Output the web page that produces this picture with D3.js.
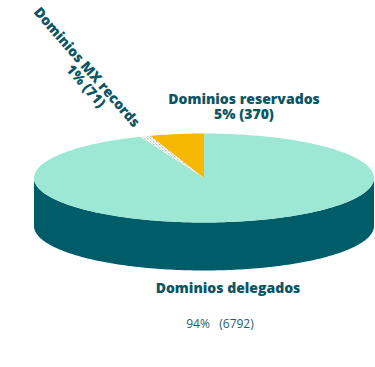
<!DOCTYPE html>
<html><head><meta charset="utf-8">
<script src="https://cdn.jsdelivr.net/npm/d3@7"></script>
<style>body{margin:0;background:#fff}svg{display:block}</style>
</head><body><svg id="c" width="375" height="367"></svg>
<script>
const categories = ["Dominios delegados", "Dominios MX records", "Dominios reservados"];
const values = [6792, 71, 370];
const percentLabels = ["94%", "1%", "5%"];
const topColors = ["#9de8d4", "url(#dots)", "#f6b800"];
const sideColors = ["#005c69", "#c8d0d0", "#c99600"];

const W = 375, H = 367;
const cx = 204, cy = 178, rx = 170, ry = 44.5, depth = 48;
const svg = d3.select("#c");
const defs = svg.append("defs");
const pat = defs.append("pattern").attr("id","dots").attr("width",3).attr("height",3).attr("patternUnits","userSpaceOnUse");
pat.append("rect").attr("width",3).attr("height",3).attr("fill","#ffffff");
pat.append("rect").attr("width",1.5).attr("height",1.5).attr("fill","#b8c4c6");
pat.append("rect").attr("x",1.5).attr("y",1.5).attr("width",1.5).attr("height",1.5).attr("fill","#d8e0e0");

const pie = d3.pie().sort(null).value(d => d)(values);
const px = a => cx + rx * Math.sin(a);
const py = (a, dy=0) => cy - ry * Math.cos(a) + dy;

function arcPts(a0, a1, dy) {
  const n = Math.max(2, Math.ceil(Math.abs(a1 - a0) / 0.02));
  return d3.range(n + 1).map(i => { const a = a0 + (a1 - a0) * i / n; return [px(a), py(a, dy)]; });
}
const line = d3.line();

pie.forEach((s, i) => {
  const a0 = Math.max(s.startAngle, Math.PI/2), a1 = Math.min(s.endAngle, 3*Math.PI/2);
  if (a1 <= a0) return;
  const pts = arcPts(a0, a1, 0).concat(arcPts(a1, a0, depth));
  svg.append("path").attr("d", line(pts) + "Z").attr("fill", sideColors[i]);
});
pie.forEach((s, i) => {
  const pts = [[cx, cy]].concat(arcPts(s.startAngle, s.endAngle, 0));
  svg.append("path").attr("d", line(pts) + "Z").attr("fill", topColors[i]);
});

const tc = "#0b5564";
const bold = "'Open Sans', Lato, sans-serif";
const fw = 800, fs = 14;
const g1 = svg.append("g").attr("font-family", bold).attr("font-weight", fw).attr("font-size", fs).attr("fill", tc).attr("text-anchor","middle");
g1.append("text").attr("x", 244).attr("y", 104).text(categories[2]);
g1.append("text").attr("x", 244).attr("y", 119).text(percentLabels[2] + " (" + values[2] + ")");
svg.append("text").attr("x", 228).attr("y", 293).attr("font-family", bold).attr("font-weight", fw).attr("font-size", fs).attr("fill", tc).attr("text-anchor","middle").text(categories[0]);
svg.append("text").attr("x", 220).attr("y", 328).attr("font-family", "'Open Sans', sans-serif").attr("font-size", 12).attr("fill", "#1e5e6a").attr("text-anchor","middle").attr("xml:space","preserve").text(percentLabels[0] + "   (" + values[0] + ")");
const ang = 49;
svg.append("text").attr("transform", `translate(87,67) rotate(${ang})`).attr("y", 5).attr("font-family", bold).attr("font-weight", fw).attr("font-size", fs).attr("fill", tc).attr("text-anchor","middle").text(categories[1]);
svg.append("text").attr("transform", `translate(86,86) rotate(${ang})`).attr("y", 5).attr("font-family", bold).attr("font-weight", fw).attr("font-size", fs).attr("fill", tc).attr("text-anchor","middle").text(percentLabels[1] + " (" + values[1] + ")");
</script></body></html>
